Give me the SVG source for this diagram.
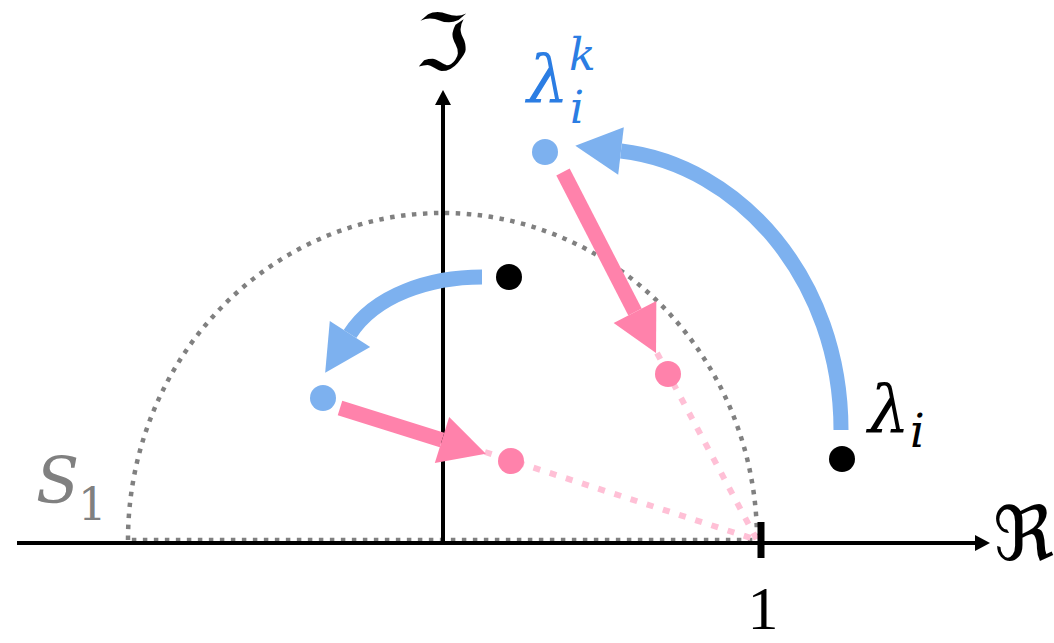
<svg xmlns="http://www.w3.org/2000/svg" width="1054" height="643" viewBox="0 0 1054 643">
<style>
.axis{stroke:#000;stroke-width:4;fill:none}
.blue{stroke:#7db1ef;stroke-width:15;fill:none}
.pink{stroke:#ff82ab;stroke-width:15;fill:none}
.pdot{stroke:#ffc0d6;stroke-width:6;stroke-dasharray:7 10;fill:none}
.math{font-family:"DejaVu Serif","Liberation Serif",serif;font-style:italic}
.frak{font-family:"DejaVu Serif","DejaVu Sans",serif}
</style>
<defs>
<marker id="ahb" markerUnits="userSpaceOnUse" markerWidth="50" markerHeight="50" refX="0" refY="24" orient="auto" overflow="visible">
<path d="M0,0 L46,24 L0,48 z" fill="#7db1ef"/>
</marker>
<marker id="ahp" markerUnits="userSpaceOnUse" markerWidth="50" markerHeight="50" refX="0" refY="24" orient="auto" overflow="visible">
<path d="M0,0 L46,24 L0,48 z" fill="#ff82ab"/>
</marker>
<marker id="ax" markerUnits="userSpaceOnUse" markerWidth="20" markerHeight="20" refX="0" refY="8" orient="auto" overflow="visible">
<path d="M0,0 L15,8 L0,16 z" fill="#000"/>
</marker>
</defs>
<g id="unit-circle">
<path d="M128,540 A314.5,327 0 0 1 757,540 Z" fill="none" stroke="#808080" stroke-width="4.5" stroke-dasharray="4.5 6.5"/>
</g>
<g id="connectors">
<line class="pdot" x1="485" y1="452" x2="757" y2="540"/>
<line class="pdot" x1="657" y1="353" x2="757" y2="540"/>
<line class="axis" x1="17" y1="543" x2="975" y2="543" marker-end="url(#ax)"/>
<line class="axis" x1="443" y1="543" x2="443" y2="105" marker-end="url(#ax)"/>
<line x1="761" y1="522" x2="761" y2="558" stroke="#000" stroke-width="7"/>
<path class="blue" d="M841,430 C841,280 740,165 621,151" marker-end="url(#ahb)"/>
<path class="blue" d="M482,277 C430,277 375,295 350,334" marker-end="url(#ahb)"/>
<line class="pink" x1="340" y1="408" x2="442" y2="440" marker-end="url(#ahp)"/>
<line class="pink" x1="563" y1="172" x2="635" y2="312" marker-end="url(#ahp)"/>
</g>
<g id="lambda-i">
<circle cx="842" cy="459" r="13" fill="#000"/>
<text class="math" x="868" y="432" font-size="66" fill="#000">λ</text>
<text class="math" x="910" y="447" font-size="46" fill="#000">i</text>
</g>
<g id="lambda-ik">
<circle cx="545" cy="152" r="13" fill="#7db1ef"/>
<text class="math" x="527" y="102" font-size="66" fill="#2b7de3">λ</text>
<text class="math" x="569" y="70" font-size="44" fill="#2b7de3">k</text>
<text class="math" x="570" y="123" font-size="44" fill="#2b7de3">i</text>
</g>
<g id="point-a"><circle cx="509" cy="277" r="13" fill="#000"/></g>
<g id="point-b"><circle cx="323" cy="398" r="13" fill="#7db1ef"/></g>
<g id="point-c"><circle cx="511" cy="461" r="13" fill="#ff82ab"/></g>
<g id="point-d"><circle cx="668" cy="374" r="13" fill="#ff82ab"/></g>
<g id="labels">
<text class="frak" x="442" y="70" font-size="78" text-anchor="middle" fill="#000">ℑ</text>
<text class="frak" x="993" y="560" font-size="75" fill="#000">ℜ</text>
<text x="763" y="629" font-size="62" text-anchor="middle" font-family="Liberation Serif, serif" fill="#000">1</text>
<text class="math" x="36" y="503" font-size="63" fill="#808080">S</text>
<text x="78" y="520" font-size="45" font-family="DejaVu Serif, serif" fill="#808080">1</text>
</g>
</svg>
